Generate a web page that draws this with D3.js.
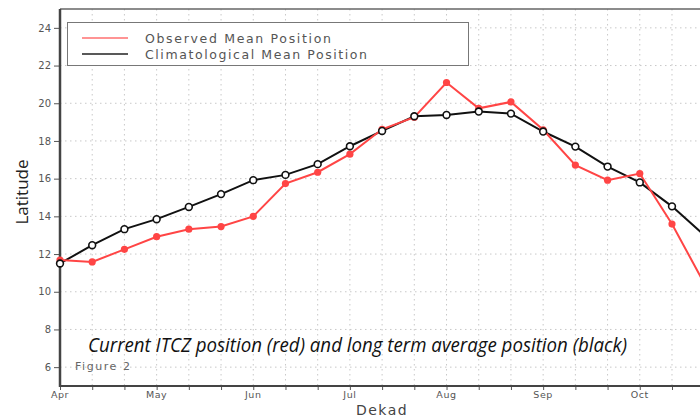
<!DOCTYPE html>
<html>
<head>
<meta charset="utf-8">
<script src="https://cdn.jsdelivr.net/npm/d3@7"></script>
<style>
html,body{margin:0;padding:0;background:#fff;}
svg{display:block;}
</style>
</head>
<body>
<svg id="chart" width="700" height="420"></svg>
<script>
// ---- data ----
const dekads = d3.range(0, 21); // dekad index starting 1 Apr
const monthLabels = ["Apr", "May", "Jun", "Jul", "Aug", "Sep", "Oct"];
const monthDekads = [0, 3, 6, 9, 12, 15, 18];
const yTicks = [6, 8, 10, 12, 14, 16, 18, 20, 22, 24];
const observed = [11.68, 11.58, 12.25, 12.92, 13.32, 13.46, 14.0, 15.74, 16.34, 17.3, 18.62, 19.26, 21.1, 19.73, 20.07, 18.59, 16.72, 15.92, 16.27, 13.59, 10.45];
const climatology = [11.5, 12.47, 13.32, 13.85, 14.5, 15.18, 15.92, 16.2, 16.77, 17.72, 18.53, 19.31, 19.38, 19.56, 19.45, 18.5, 17.7, 16.64, 15.8, 14.53, 13.0];
const seriesNames = ["Observed Mean Position", "Climatological Mean Position"];

// ---- layout ----
const svg = d3.select("#chart");
const mLeft = 60, mTop = 9, mBottom = 386;
const x = d3.scaleLinear().domain([0, 20]).range([mLeft, mLeft + 20 * 32.21]);
const y = d3.scaleLinear().domain([5, 25]).range([mBottom, mTop]);
const sans = "'DejaVu Sans', sans-serif";

// grid
const grid = svg.append("g");
grid.selectAll("line.h").data(yTicks).join("line").attr("class", "h")
  .attr("x1", mLeft).attr("x2", 700)
  .attr("y1", d => y(d)).attr("y2", d => y(d))
  .attr("stroke", "#c8c8c8").attr("stroke-width", 1).attr("stroke-dasharray", "1.5,3.5");
grid.selectAll("line.v").data(dekads.slice(1)).join("line").attr("class", "v")
  .attr("x1", d => x(d)).attr("x2", d => x(d))
  .attr("y1", mTop).attr("y2", mBottom)
  .attr("stroke", "#c8c8c8").attr("stroke-width", 1).attr("stroke-dasharray", "1.5,3.5");

// top border
svg.append("line").attr("x1", mLeft).attr("x2", 700).attr("y1", mTop).attr("y2", mTop)
  .attr("stroke", "#666").attr("stroke-width", 1.5);

// y axis
const yAxis = svg.append("g").attr("transform", `translate(${mLeft},0)`)
  .call(d3.axisLeft(y).tickValues(yTicks).tickSize(6).tickPadding(3).tickFormat(d3.format("d")));
yAxis.select(".domain").remove();
yAxis.selectAll(".tick line").attr("stroke", "#555");
yAxis.selectAll(".tick text").attr("fill", "#555").style("font-family", sans).style("font-size", "10px");
svg.append("line").attr("x1", mLeft).attr("x2", mLeft).attr("y1", mTop).attr("y2", mBottom + 1)
  .attr("stroke", "#444").attr("stroke-width", 2.5);

// x axis
const xAxis = svg.append("g").attr("transform", `translate(0,${mBottom})`)
  .call(d3.axisBottom(x).tickValues(dekads).tickSize(4).tickFormat(""));
xAxis.select(".domain").remove();
xAxis.selectAll(".tick line").attr("stroke", "#555");
svg.append("line").attr("x1", mLeft).attr("x2", 700).attr("y1", mBottom).attr("y2", mBottom)
  .attr("stroke", "#444").attr("stroke-width", 2);
svg.append("g").selectAll("text").data(monthLabels).join("text")
  .attr("x", (d, i) => x(monthDekads[i])).attr("y", 398)
  .attr("text-anchor", "middle").attr("fill", "#555")
  .style("font-family", sans).style("font-size", "9.5px").style("letter-spacing", "0.6px")
  .text(d => d);

// axis titles
svg.append("text").attr("transform", "translate(28,192) rotate(-90)")
  .attr("text-anchor", "middle").attr("fill", "#222")
  .style("font-family", "'Open Sans', sans-serif").style("font-size", "17px")
  .text("Latitude");
svg.append("text").attr("x", 382).attr("y", 415)
  .attr("text-anchor", "middle").attr("fill", "#444")
  .style("font-family", sans).style("font-size", "14px").style("letter-spacing", "1.5px")
  .text("Dekad");

// lines
const line = d3.line().x((d, i) => x(i)).y(d => y(d));
svg.append("path").datum(climatology).attr("d", line)
  .attr("fill", "none").attr("stroke", "#111").attr("stroke-width", 2);
svg.append("path").datum(observed).attr("d", line)
  .attr("fill", "none").attr("stroke", "#ff4545").attr("stroke-width", 2);
svg.append("g").selectAll("circle").data(observed).join("circle")
  .attr("cx", (d, i) => x(i)).attr("cy", d => y(d)).attr("r", 3.6)
  .attr("fill", "#ff4545");
svg.append("g").selectAll("circle").data(climatology).join("circle")
  .attr("cx", (d, i) => x(i)).attr("cy", d => y(d)).attr("r", 3.4)
  .attr("fill", "#fff").attr("stroke", "#111").attr("stroke-width", 1.6);

// legend
const lg = svg.append("g");
lg.append("rect").attr("x", 67.5).attr("y", 22.5).attr("width", 401).attr("height", 43)
  .attr("fill", "#fff").attr("stroke", "#777").attr("stroke-width", 1);
const legColors = ["#ff7070", "#222"];
seriesNames.forEach((name, i) => {
  const ly = 38 + i * 16;
  lg.append("line").attr("x1", 82).attr("x2", 128).attr("y1", ly).attr("y2", ly)
    .attr("stroke", legColors[i]).attr("stroke-width", 1.5);
  lg.append("text").attr("x", 145).attr("y", ly + 4.5).attr("fill", "#555")
    .style("font-family", sans).style("font-size", "12.5px")
    .attr("textLength", i === 0 ? 186 : 222).attr("lengthAdjust", "spacing")
    .text(name);
});

// annotations
svg.append("text").attr("x", 75).attr("y", 369.5).attr("fill", "#666")
  .style("font-family", sans).style("font-size", "11px")
  .attr("textLength", 55).attr("lengthAdjust", "spacing")
  .text("Figure 2");
svg.append("text").attr("x", 88).attr("y", 352).attr("fill", "#111")
  .style("font-family", "'Open Sans', sans-serif").style("font-size", "20px").style("font-style", "italic")
  .attr("textLength", 539).attr("lengthAdjust", "spacingAndGlyphs")
  .text("Current ITCZ position (red) and long term average position (black)");
</script>
</body>
</html>
